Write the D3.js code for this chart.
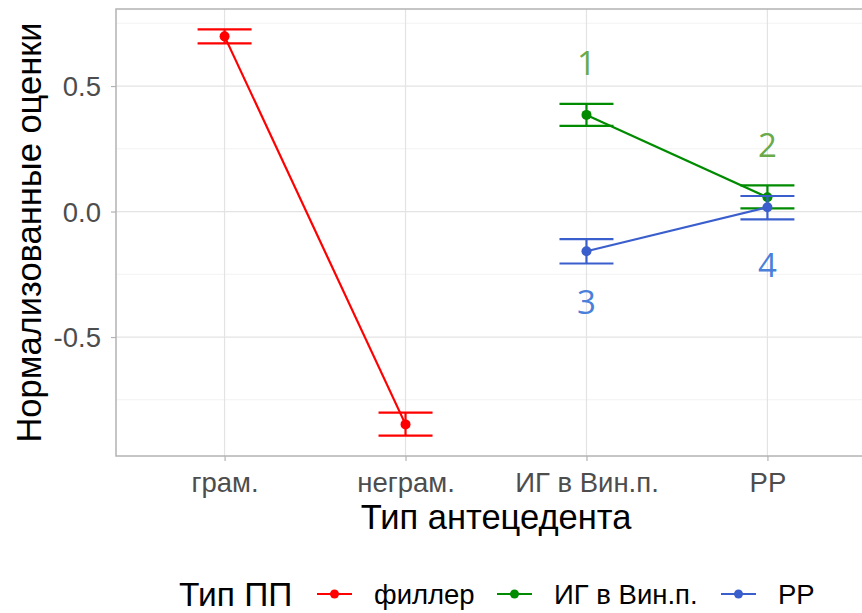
<!DOCTYPE html>
<html>
<head>
<meta charset="utf-8">
<script src="https://cdn.jsdelivr.net/npm/d3@7"></script>
<style>
  body { margin: 0; background: #fff; }
  text { font-family: "Liberation Sans", Arial, sans-serif; }
</style>
</head>
<body>
<div id="chart"></div>
<script>
const width = 862;
const height = 613;

// data
const categories = ["грам.", "неграм.", "ИГ в Вин.п.", "РР"];
const seriesNames = ["филлер", "ИГ в Вин.п.", "РР"];
const seriesColors = ["#ff0000", "#008b00", "#3a5fcd"];
const seriesCats = [["грам.", "неграм."], ["ИГ в Вин.п.", "РР"], ["ИГ в Вин.п.", "РР"]];
const means = [[0.698, -0.848], [0.385, 0.057], [-0.158, 0.017]];
const lowers = [[0.670, -0.893], [0.341, 0.013], [-0.207, -0.031]];
const uppers = [[0.726, -0.801], [0.429, 0.104], [-0.110, 0.062]];
const yTicks = [-0.5, 0, 0.5];
const yMinor = [-0.75, -0.25, 0.25, 0.75];
const noteLabels = ["1", "2", "3", "4"];
const noteCats = ["ИГ в Вин.п.", "РР", "ИГ в Вин.п.", "РР"];
const noteValues = [0.59, 0.262, -0.362, -0.215];
const noteColors = ["#6aaa4b", "#6aaa4b", "#4a7fda", "#4a7fda"];

const panel = { left: 116, top: 9, right: 876, bottom: 456 };

const svg = d3.select("#chart").append("svg")
  .attr("width", width).attr("height", height);

const allLo = d3.min(lowers.flat()), allHi = d3.max(uppers.flat());
const pad = (allHi - allLo) * 0.05;

const x = d3.scalePoint().domain(categories)
  .range([panel.left, panel.right]).padding(0.6);
const y = d3.scaleLinear().domain([allLo - pad, allHi + pad])
  .range([panel.bottom, panel.top]);

// grid
svg.append("g").selectAll("line").data(yMinor).join("line")
  .attr("x1", panel.left).attr("x2", panel.right)
  .attr("y1", d => y(d)).attr("y2", d => y(d))
  .attr("stroke", "#f2f2f2").attr("stroke-width", 1);
svg.append("g").selectAll("line").data(yTicks).join("line")
  .attr("x1", panel.left).attr("x2", panel.right)
  .attr("y1", d => y(d)).attr("y2", d => y(d))
  .attr("stroke", "#e3e3e3").attr("stroke-width", 1.2);
svg.append("g").selectAll("line").data(categories).join("line")
  .attr("x1", d => x(d)).attr("x2", d => x(d))
  .attr("y1", panel.top).attr("y2", panel.bottom)
  .attr("stroke", "#e3e3e3").attr("stroke-width", 1.2);

// panel border
svg.append("rect")
  .attr("x", panel.left).attr("y", panel.top)
  .attr("width", panel.right - panel.left).attr("height", panel.bottom - panel.top)
  .attr("fill", "none").attr("stroke", "#b3b3b3").attr("stroke-width", 1.5);

// axes
const fmt = d => d3.format(".1f")(d).replace("−", "-");
const yAxis = svg.append("g")
  .attr("transform", `translate(${panel.left},0)`)
  .call(d3.axisLeft(y).tickValues(yTicks).tickFormat(fmt).tickSize(5).tickPadding(10));
const xAxis = svg.append("g")
  .attr("transform", `translate(0,${panel.bottom})`)
  .call(d3.axisBottom(x).tickSize(5).tickPadding(11));
[yAxis, xAxis].forEach(a => {
  a.select(".domain").remove();
  a.selectAll(".tick line").attr("stroke", "#b3b3b3").attr("stroke-width", 1.2);
  a.selectAll(".tick text").attr("fill", "#4d4d4d")
    .style("font-family", "'Liberation Sans', Arial, sans-serif")
    .style("font-size", "27.5px");
});
yAxis.selectAll(".tick text").attr("dy", "0.35em");
xAxis.selectAll(".tick text").attr("dy", "0.71em");

// series lines, error bars, points
seriesNames.forEach((s, i) => {
  const pts = seriesCats[i].map((c, j) => ({ c, m: means[i][j], lo: lowers[i][j], hi: uppers[i][j] }));
  const g = svg.append("g");
  g.append("path").datum(pts)
    .attr("d", d3.line().x(d => x(d.c)).y(d => y(d.m)))
    .attr("fill", "none").attr("stroke", seriesColors[i]).attr("stroke-width", 2.2);
  const eb = g.selectAll(".eb").data(pts).join("g");
  eb.append("line").attr("x1", d => x(d.c)).attr("x2", d => x(d.c))
    .attr("y1", d => y(d.lo)).attr("y2", d => y(d.hi));
  eb.append("line").attr("x1", d => x(d.c) - 27).attr("x2", d => x(d.c) + 27)
    .attr("y1", d => y(d.lo)).attr("y2", d => y(d.lo));
  eb.append("line").attr("x1", d => x(d.c) - 27).attr("x2", d => x(d.c) + 27)
    .attr("y1", d => y(d.hi)).attr("y2", d => y(d.hi));
  eb.selectAll("line").attr("stroke", seriesColors[i]).attr("stroke-width", 2.2);
  g.selectAll("circle").data(pts).join("circle")
    .attr("cx", d => x(d.c)).attr("cy", d => y(d.m)).attr("r", 5)
    .attr("fill", seriesColors[i]);
});

// number annotations
svg.append("g").selectAll("text").data(noteLabels).join("text")
  .attr("x", (d, i) => x(noteCats[i]))
  .attr("y", (d, i) => y(noteValues[i]))
  .attr("text-anchor", "middle").attr("dy", "0.35em")
  .style("font-family", "'Open Sans', 'Noto Sans', sans-serif")
  .style("font-size", "33px")
  .attr("fill", (d, i) => noteColors[i])
  .text(d => d);

// axis titles
svg.append("text")
  .attr("x", (panel.left + panel.right) / 2).attr("y", 529)
  .attr("text-anchor", "middle")
  .style("font-size", "34.5px").attr("fill", "#000")
  .text("Тип антецедента");
svg.append("text")
  .attr("transform", `translate(41,${(panel.top + panel.bottom) / 2}) rotate(-90)`)
  .attr("text-anchor", "middle")
  .style("font-size", "34.5px").attr("fill", "#000")
  .text("Нормализованные оценки");

// legend
const legend = svg.append("g").attr("transform", "translate(0,594)");
legend.append("text").attr("x", 179).attr("dy", "0.35em")
  .style("font-size", "33.5px").attr("fill", "#000").text("Тип ПП");
const keyX = [317, 497, 721];
seriesNames.forEach((s, i) => {
  const k = legend.append("g").attr("transform", `translate(${keyX[i]},0)`);
  k.append("line").attr("x1", 0).attr("x2", 35)
    .attr("stroke", seriesColors[i]).attr("stroke-width", 2.2);
  k.append("circle").attr("cx", 17.5).attr("r", 4.5).attr("fill", seriesColors[i]);
  k.append("text").attr("x", 57).attr("dy", "0.35em")
    .style("font-size", "27.5px").attr("fill", "#000").text(s);
});
</script>
</body>
</html>
